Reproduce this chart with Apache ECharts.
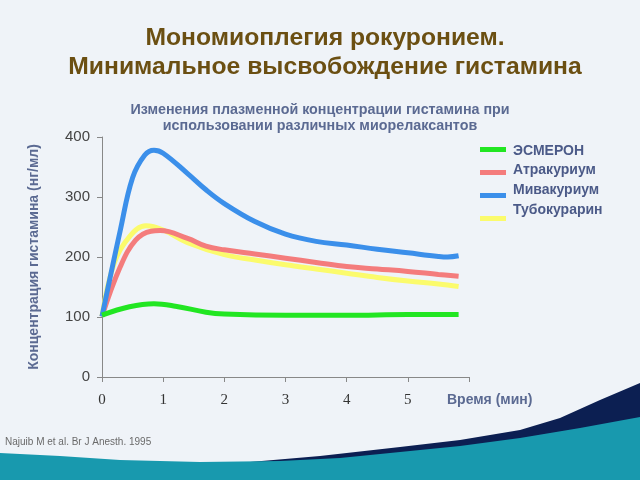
<!DOCTYPE html>
<html><head><meta charset="utf-8">
<script src="https://cdn.jsdelivr.net/npm/echarts@6/dist/echarts.min.js"></script>
<style>html,body{margin:0;padding:0;background:#eff3f8}#c{width:640px;height:480px}</style>
</head><body><div id="c"></div>
<script>
const seriesNames = ['ЭСМЕРОН', 'Атракуриум', 'Мивакуриум', 'Тубокурарин'];
const xTicks = [0, 1, 2, 3, 4, 5];
const yTicks = [0, 100, 200, 300, 400];

const esmeronT = [0, 0.45, 0.85, 1.2, 1.7, 2.0, 3.0, 4.0, 5.0, 5.83];
const esmeronV = [103, 117, 122, 118, 108, 105, 103, 103, 104, 104];

const atraT = [0, 0.3, 0.55, 0.8, 0.95, 1.4, 1.7, 2.0, 2.5, 3.0, 3.5, 4.0, 4.5, 5.0, 5.5, 5.83];
const atraV = [101, 184, 228, 243, 244, 231, 218, 212, 205, 198, 191, 184, 180, 176, 171, 168];

const mivaT = [0, 0.3, 0.5, 0.7, 0.85, 1.0, 1.4, 1.7, 2.0, 2.5, 3.0, 3.5, 4.0, 4.5, 5.0, 5.5, 5.65, 5.83];
const mivaV = [101, 245, 332, 370, 378, 373, 339, 312, 289, 259, 238, 226, 220, 213, 207, 201, 200, 202];

const tuboT = [0, 0.2, 0.45, 0.72, 1.0, 1.4, 2.0, 2.5, 3.0, 3.5, 4.0, 4.5, 5.0, 5.5, 5.83];
const tuboV = [101, 190, 234, 252, 245, 224, 204, 195, 187, 180, 173, 166, 160, 155, 151];

const colors = ['#22e622', '#f47c7c', '#3b8fea', '#fbfb6c'];

function pairs(t, v) { return t.map((x, i) => [x, v[i]]); }

const chart = echarts.init(document.getElementById('c'), null, {renderer: 'canvas'});

const teal = [[0,453],[60,456],[120,460],[200,462],[280,461],[340,458],[400,452],[460,446],[520,438],[580,428],[640,417],[640,480],[0,480]];
const navy = [[170,464],[250,462],[320,456],[400,447],[460,440],[520,430],[560,418],[600,400],[640,383],[640,480],[170,480]];

function mkSeries(name, t, v, color, z) {
  return {
    name: name, type: 'line', data: pairs(t, v), smooth: 0.4, showSymbol: false, symbol: 'none',
    lineStyle: {color: color, width: 5}, itemStyle: {color: color}, z: z
  };
}

chart.setOption({
  backgroundColor: '#eff3f8',
  animation: false,
  title: [
    {text: 'Мономиоплегия рокуронием.\nМинимальное высвобождение гистамина', left: 320, textAlign: 'center', top: 19,
     textStyle: {fontFamily: 'Liberation Sans, Arial', fontSize: 24.7, fontWeight: 'bold', color: '#6b4f12', lineHeight: 29}},
    {text: 'Изменения плазменной концентрации гистамина при\nиспользовании различных миорелаксантов', left: 315, textAlign: 'center', top: 97,
     textStyle: {fontFamily: 'Liberation Sans, Arial', fontSize: 14.3, fontWeight: 'bold', color: '#5b6a92', lineHeight: 16}}
  ],
  legend: [
    {
      orient: 'vertical', left: 475, top: 142, itemWidth: 26, itemHeight: 5, itemGap: 18, icon: 'rect',
      data: seriesNames, formatter: () => '', selectedMode: false,
      textStyle: {fontSize: 2, lineHeight: 2}
    },
    {
      orient: 'vertical', left: 503, top: 138, itemWidth: 0, itemHeight: 5, itemGap: 3.6, icon: 'rect',
      data: seriesNames, selectedMode: false,
      textStyle: {fontFamily: 'Liberation Sans, Arial', fontSize: 14, lineHeight: 16, fontWeight: 'bold', color: '#4b5a88'}
    }
  ],
  grid: {left: 102, right: 171, top: 137, bottom: 103, containLabel: false},
  xAxis: {
    type: 'value', min: 0, max: 6, interval: 1,
    axisLine: {lineStyle: {color: '#888', width: 1}},
    axisTick: {show: true, length: 5, lineStyle: {color: '#888'}},
    splitLine: {show: false},
    axisLabel: {margin: 16, fontFamily: 'Liberation Serif, Times New Roman', fontSize: 15, color: '#333',
      formatter: v => xTicks.includes(v) ? String(v) : ''}
  },
  yAxis: {
    type: 'value', min: 0, max: 400, interval: 100,
    name: 'Концентрация гистамина (нг/мл)', nameLocation: 'middle', nameGap: 61, nameRotate: 90,
    nameTextStyle: {fontFamily: 'Liberation Sans, Arial', fontSize: 14, fontWeight: 'bold', color: '#5b6a92'},
    axisLine: {show: true, lineStyle: {color: '#888', width: 1}},
    axisTick: {show: true, length: 5, lineStyle: {color: '#888'}},
    splitLine: {show: false},
    axisLabel: {margin: 12, fontFamily: 'Liberation Sans, Arial', fontSize: 15, color: '#444',
      formatter: v => yTicks.includes(v) ? String(v) : ''}
  },
  graphic: [
    {type: 'polygon', shape: {points: navy}, style: {fill: '#0c1f52'}, z: -10, silent: true},
    {type: 'polygon', shape: {points: teal}, style: {fill: '#1899ae'}, z: -9, silent: true},
    {type: 'text', left: 447, top: 393, style: {text: 'Время (мин)', font: 'bold 14px "Liberation Sans", Arial', fill: '#5b6a92'}},
    {type: 'text', left: 5, top: 437, style: {text: 'Najuib M et al. Br J Anesth. 1995', font: '10px "Liberation Sans", Arial', fill: '#6a6a6a'}}
  ],
  series: [
    mkSeries('Тубокурарин', tuboT, tuboV, colors[3], 2),
    mkSeries('Атракуриум', atraT, atraV, colors[1], 3),
    mkSeries('Мивакуриум', mivaT, mivaV, colors[2], 4),
    mkSeries('ЭСМЕРОН', esmeronT, esmeronV, colors[0], 5)
  ]
});
</script></body></html>
